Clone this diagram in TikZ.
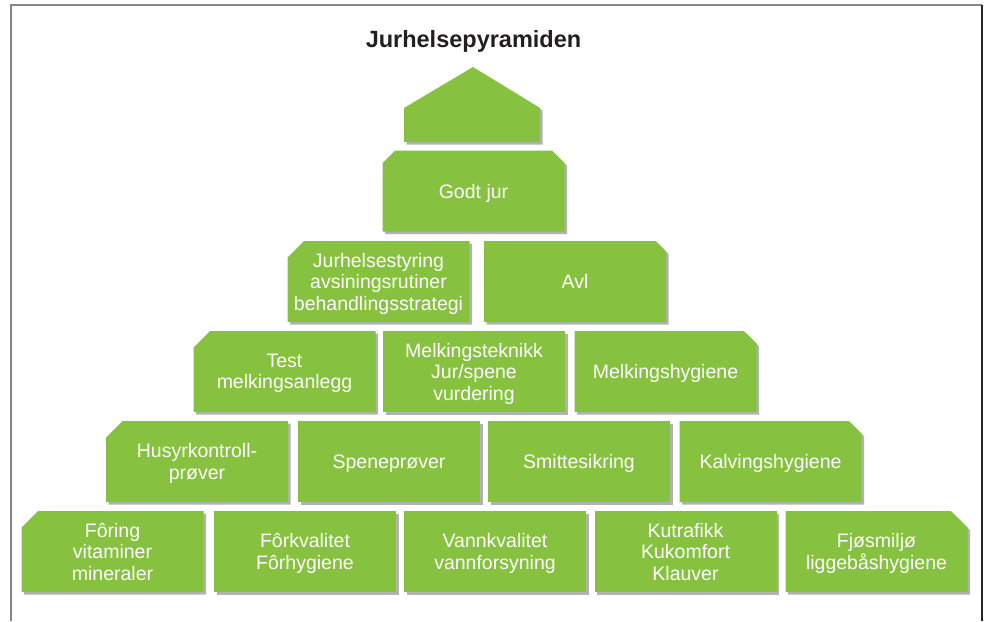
\documentclass[tikz,border=0pt]{standalone}
\usepackage{fontspec}
\setmainfont{Liberation Sans}
\usepackage{xcolor}
\usepackage{tikz}
\usetikzlibrary{shapes.misc, shadows}
\definecolor{pyrgreen}{RGB}{135, 193, 64}
\definecolor{framegray}{RGB}{135, 135, 135}
\definecolor{titleink}{RGB}{35, 31, 32}

\begin{document}
\begin{tikzpicture}[x=1pt, y=-1pt,
  pshadow/.style={drop shadow={shadow xshift=2.5pt, shadow yshift=-2.5pt,
    opacity=.3, fill=black}},
  pbox/.style={rectangle, fill=pyrgreen, text=white, pshadow,
    minimum width=182pt, minimum height=81pt, inner sep=2pt, align=center,
    text depth=0pt, font=\fontsize{19.5}{21.5}\selectfont},
  cutleft/.style={pbox, chamfered rectangle, chamfered rectangle angle=45,
    chamfered rectangle xsep=13pt, chamfered rectangle corners=north west,
    inner xsep=-12pt},
  cutright/.style={cutleft, chamfered rectangle corners=north east},
  cutboth/.style={cutleft, chamfered rectangle corners={north west, north east}}]

  \useasboundingbox (0,0) rectangle (987,621);

  % --- frame ---
  \draw[framegray, line width=1.5pt] (11,621) -- (11,5) -- (982,5);
  \draw[black!85, line width=1.5pt] (982,5) -- (982,621);

  % --- title ---
  \node[anchor=base, text=titleink, font=\fontsize{23.5}{28}\selectfont\bfseries]
    (title) at (473.5,47) {Jurhelsepyramiden};

  % --- roof ---
  \fill[pyrgreen, pshadow] (404,142) -- (404,108) -- (473,67) -- (540,108)
    -- (540,142) -- cycle;

  % --- top ---
  \node[cutboth] (godt) at (473.5,191) {Godt jur};

  % --- row 2 ---
  \node[cutleft]  (styring) at (378.5,281.5)
    {Jurhelsestyring\\avsiningsrutiner\\behandlingsstrategi};
  \node[cutright] (avl) at (575,281.5) {Avl};

  % --- row 3 ---
  \node[cutleft]  (test) at (284.5,371.5) {Test\\melkingsanlegg};
  \node[pbox]     (teknikk) at (474,371.5)
    {Melkingsteknikk\\Jur/spene\\vurdering};
  \node[cutright] (melkhyg) at (665.5,371.5) {Melkingshygiene};

  % --- row 4 ---
  \node[cutleft]  (husyr) at (197,461.5) {Husyrkontroll-\\prøver};
  \node[pbox]     (spene) at (389,461.5) {Speneprøver};
  \node[pbox]     (smitte) at (579,461.5) {Smittesikring};
  \node[cutright] (kalving) at (770.5,461.5) {Kalvingshygiene};

  % --- bottom row ---
  \node[cutleft]  (foring) at (112.5,551.5) {Fôring\\vitaminer\\mineraler};
  \node[pbox]     (forkval) at (305,551.5) {Fôrkvalitet\\Fôrhygiene};
  \node[pbox]     (vann) at (495,551.5) {Vannkvalitet\\vannforsyning};
  \node[pbox]     (kutrafikk) at (685.5,551.5) {Kutrafikk\\Kukomfort\\Klauver};
  \node[cutright] (fjos) at (876.5,551.5) {Fjøsmiljø\\liggebåshygiene};

\end{tikzpicture}
\end{document}
